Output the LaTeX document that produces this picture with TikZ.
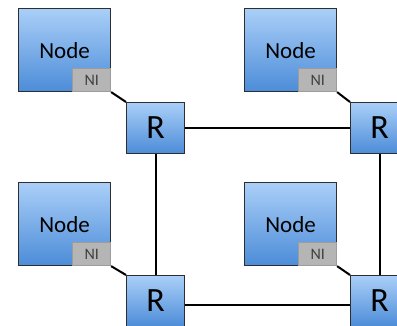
\documentclass[tikz,border=0pt]{standalone}
\usepackage{fontspec}
\setmainfont{Carlito}
\definecolor{blueT}{HTML}{AACFF8}
\definecolor{blueB}{HTML}{4C8CD8}
\definecolor{edgeC}{HTML}{2E2E2E}
\definecolor{niFill}{HTML}{B5B5B5}
\definecolor{niEdge}{HTML}{9C9C9C}
\begin{document}
\begin{tikzpicture}[x=1pt,y=-1pt,
  box/.style={draw=edgeC, line width=1.1pt, top color=blueT, bottom color=blueB,
    inner sep=0pt, anchor=north west},
  host/.style={box, minimum width=92pt, minimum height=83pt,
    font=\fontsize{23}{25}\selectfont, text depth=-2pt},
  router/.style={box, minimum width=58pt, minimum height=51pt,
    font=\fontsize{34}{36}\selectfont, text depth=-5pt},
  ni/.style={draw=niEdge, fill=niFill, line width=0.8pt, minimum width=38pt,
    minimum height=23pt, inner sep=0pt, anchor=south east, text=black!75,
    font=\fontsize{16}{17}\selectfont},
  link/.style={line width=2pt, black}]
\useasboundingbox (0,0) rectangle (397,326);
\clip (0,0) rectangle (397,326);

% processing nodes with their network interfaces
\node[host] (hTL) at (18,8) {Node};
\node[ni] (niTL) at (hTL.south east) {NI};
\node[host] (hTR) at (244,8) {Node};
\node[ni] (niTR) at (hTR.south east) {NI};
\node[host] (hBL) at (18,182) {Node};
\node[ni] (niBL) at (hBL.south east) {NI};
\node[host] (hBR) at (244,182) {Node};
\node[ni] (niBR) at (hBR.south east) {NI};

% routers
\node[router] (rTL) at (126,102) {R};
\node[router] (rTR) at (350,102) {R};
\node[router] (rBL) at (126,275) {R};
\node[router] (rBR) at (350,275) {R};

% interface-to-router links
\draw[link] (niTL.south east) -- (rTL.north west);
\draw[link] (niTR.south east) -- (rTR.north west);
\draw[link] (niBL.south east) -- (rBL.north west);
\draw[link] (niBR.south east) -- (rBR.north west);

% router mesh
\draw[link] (rTL.east) -- (rTR.west);
\draw[link] ([yshift=-4pt]rBL.east) -- ([yshift=-4pt]rBR.west);
\draw[link] (rTL.south) -- (rBL.north);
\draw[link] (rTR.south) -- (rBR.north);
\end{tikzpicture}
\end{document}
